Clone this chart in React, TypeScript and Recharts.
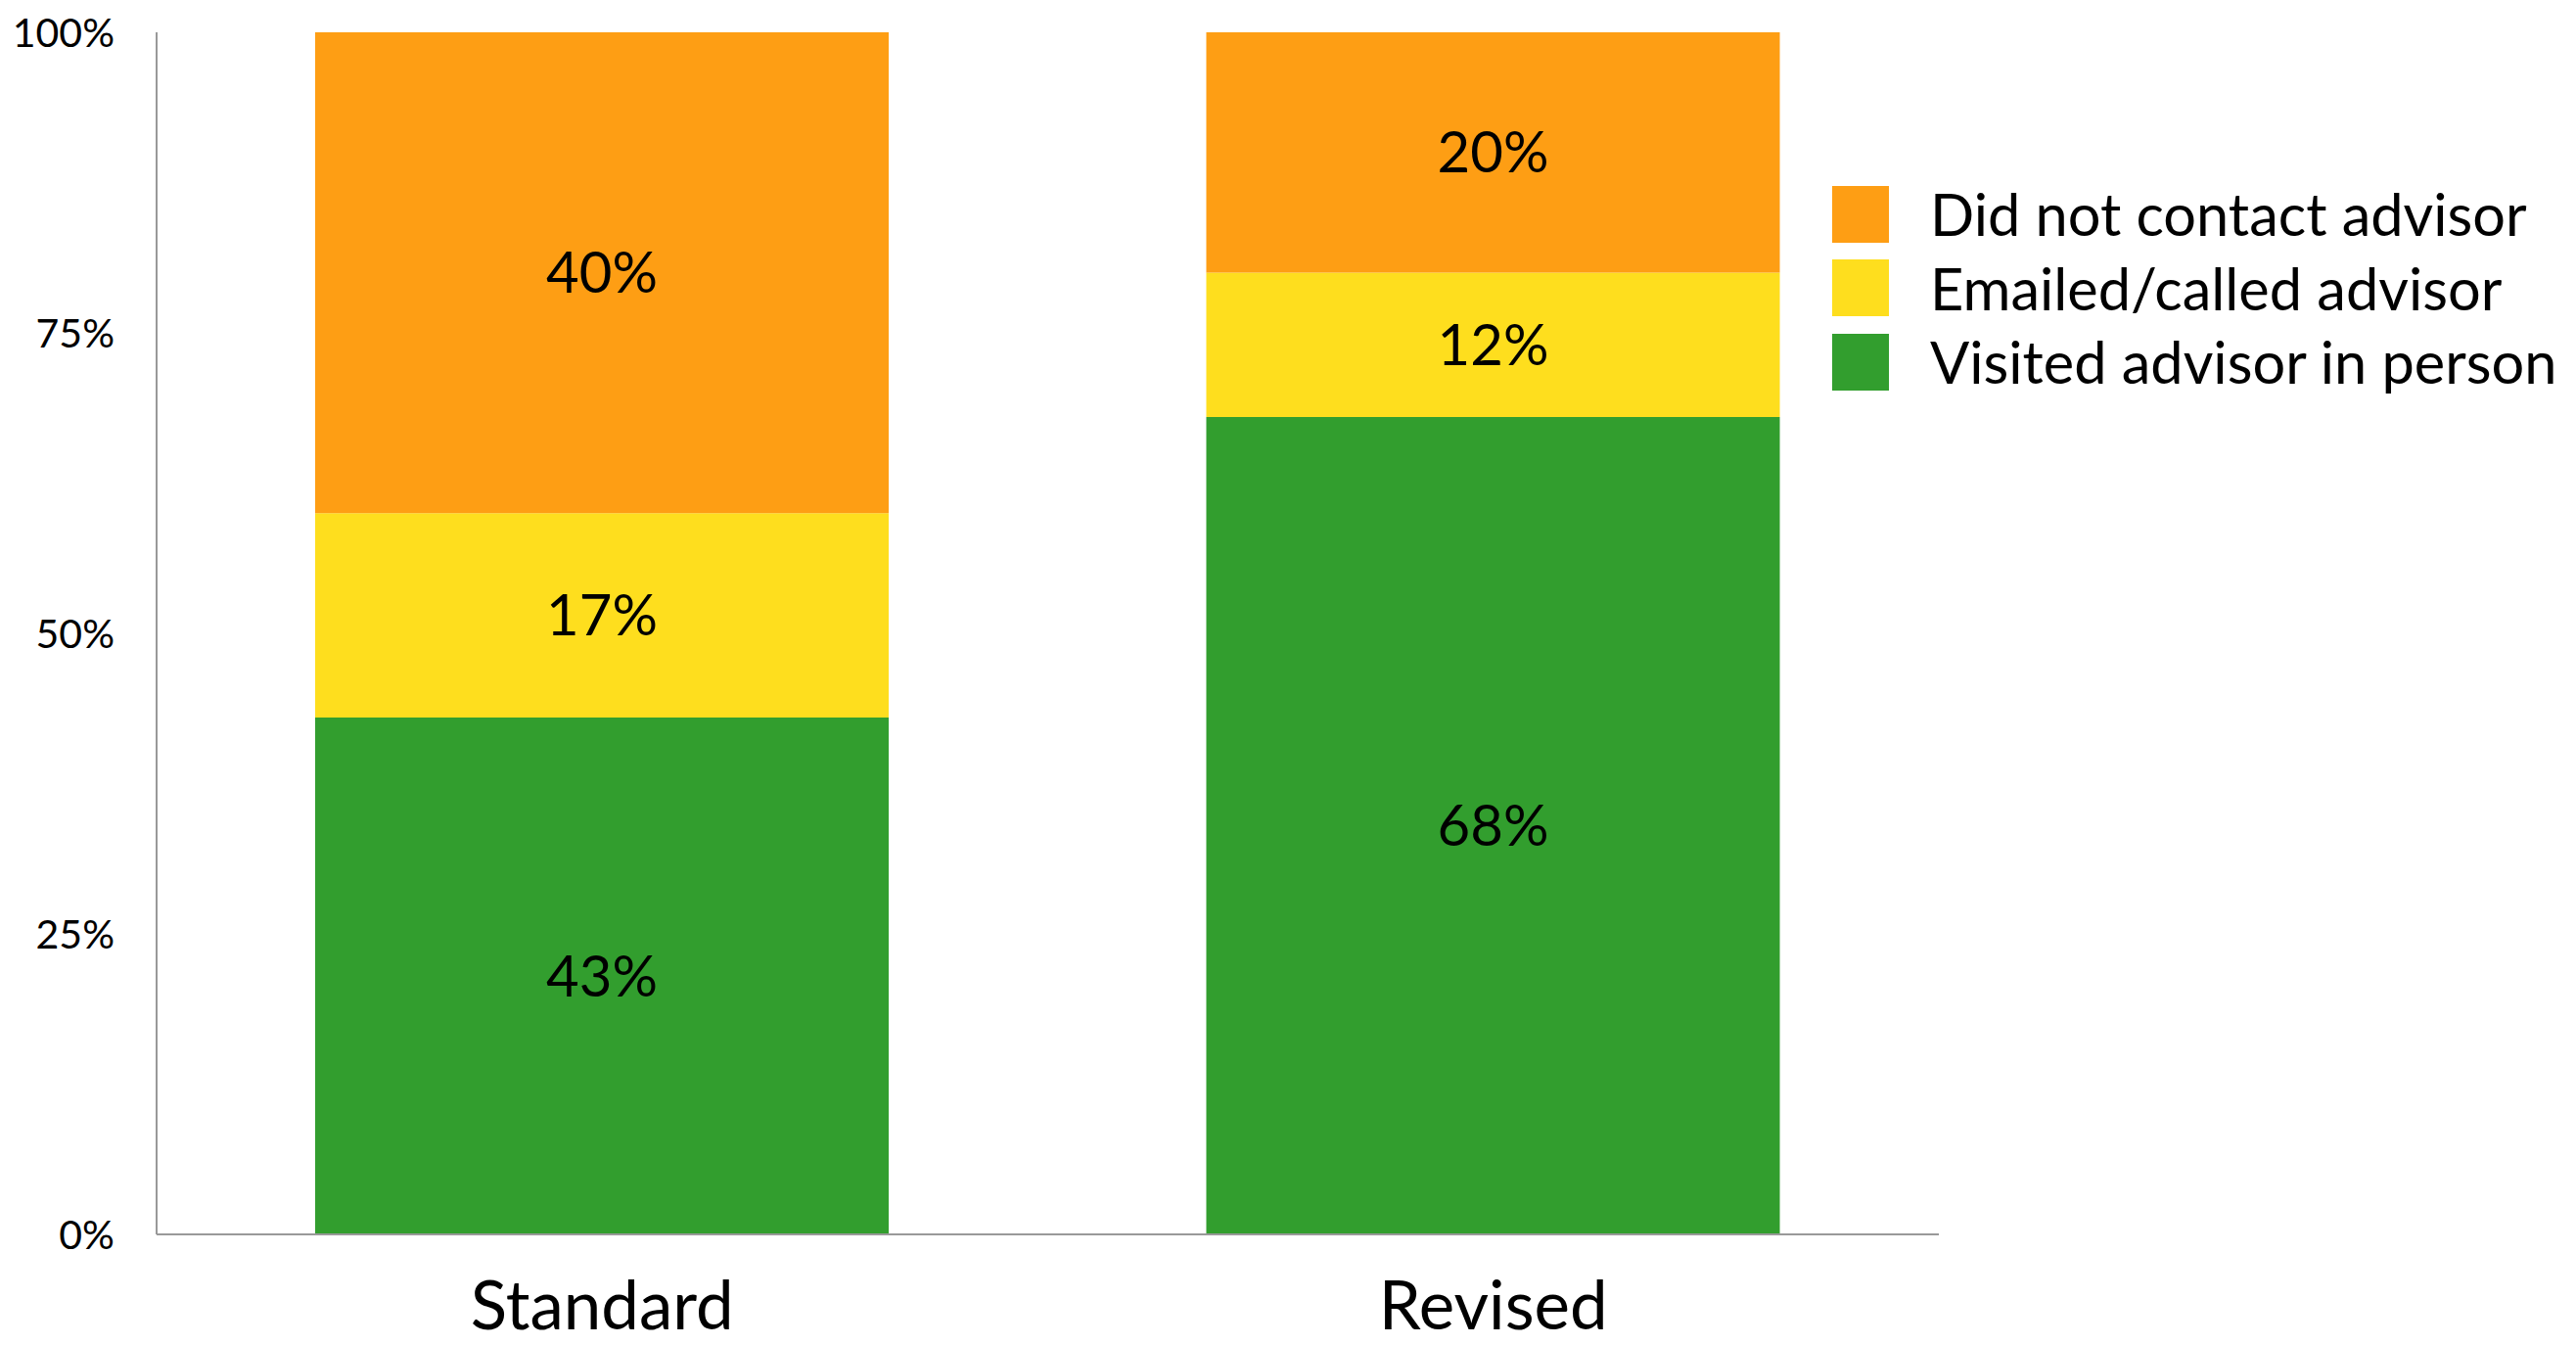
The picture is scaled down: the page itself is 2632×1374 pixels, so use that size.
import { BarChart, Bar, XAxis, YAxis, LabelList } from "recharts";

const categories = ["Standard", "Revised"];
const visitedInPerson = [43, 68];
const emailedCalled = [17, 12];
const didNotContact = [40, 20];
const yTicks = [0, 25, 50, 75, 100];

const data = categories.map((name, i) => ({
  name,
  visited: visitedInPerson[i],
  emailed: emailedCalled[i],
  none: didNotContact[i],
}));

const FONT = "Lato, 'Open Sans', sans-serif";

const series = [
  { key: "visited", label: "Visited advisor in person", color: "#329E2E" },
  { key: "emailed", label: "Emailed/called advisor", color: "#FEDE1E" },
  { key: "none", label: "Did not contact advisor", color: "#FE9E14" },
];

// legend drawn as plain html so it doesn't eat into the plot area
function LegendBox() {
  const items = [...series].reverse();
  return (
    <div style={{ position: "absolute", left: 1872, top: 181, fontFamily: FONT }}>
      {items.map((s) => (
        <div key={s.key} style={{ display: "flex", alignItems: "center", height: 75.5 }}>
          <div style={{ width: 58, height: 58, background: s.color, marginRight: 42 }} />
          <span style={{ fontSize: 59.5, color: "#000", lineHeight: 1, whiteSpace: "nowrap" }}>
            {s.label}
          </span>
        </div>
      ))}
    </div>
  );
}

export default function App() {
  return (
    <div style={{ position: "absolute", left: 0, top: 0, width: 2632, height: 1374, background: "#fff" }}>
      <BarChart
        width={2632}
        height={1374}
        data={data}
        margin={{ top: 33, right: 651, bottom: 0, left: 0 }}
      >
        <XAxis
          dataKey="name"
          axisLine={{ stroke: "#999", strokeWidth: 2 }}
          tickLine={false}
          tickMargin={42}
          tick={{ fontSize: 69, fill: "#000", fontFamily: FONT }}
          height={113}
        />
        <YAxis
          width={160}
          domain={[0, 100]}
          ticks={yTicks}
          tickFormatter={(v) => `${v}%`}
          axisLine={{ stroke: "#999", strokeWidth: 2 }}
          tickLine={false}
          tickMargin={37}
          tick={{ fontSize: 41, fill: "#000", fontFamily: FONT }}
          interval={0}
        />
        {series.map((s) => (
          <Bar
            key={s.key}
            dataKey={s.key}
            name={s.label}
            stackId="a"
            fill={s.color}
            barSize={586}
            isAnimationActive={false}
          >
            <LabelList
              dataKey={s.key}
              position="center"
              formatter={(v: any) => `${v}%`}
              style={{ fontSize: 58, fill: "#000", fontFamily: FONT }}
            />
          </Bar>
        ))}
      </BarChart>
      <LegendBox />
    </div>
  );
}
